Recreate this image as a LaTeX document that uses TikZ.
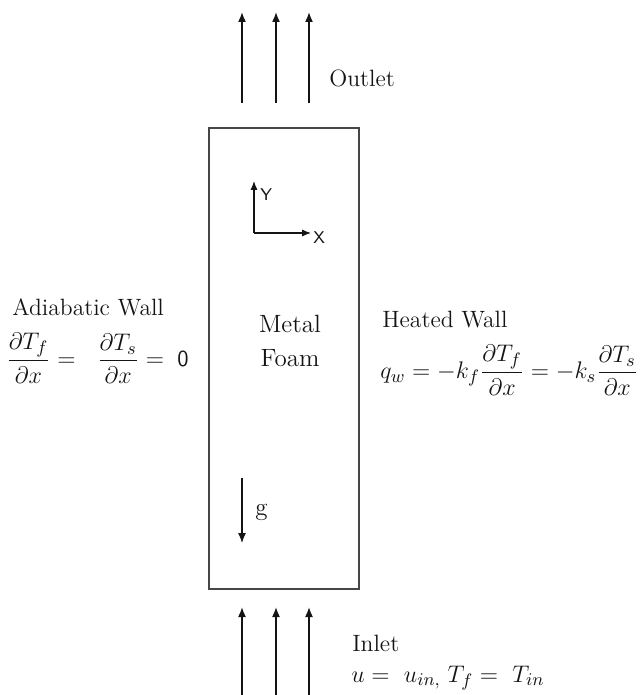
\documentclass[tikz,border=0pt]{standalone}
\usepackage{amsmath}
\usepackage{tikz}
\usetikzlibrary{arrows.meta,positioning}
\DeclareMathSizes{11.5}{11.5}{9}{7}
\definecolor{FoamInk}{RGB}{20,20,20}
\definecolor{FoamEdge}{RGB}{70,70,70}
\tikzset{
  foam/box/.style={
    draw=FoamEdge,
    line width=0.7pt
  },
  foam/arrow/.style={-{Latex[length=5pt,width=4pt]}, line width=0.8pt, draw=FoamInk},
  foam/axis/.style={-{Latex[length=4.5pt,width=3.6pt]}, line width=0.6pt, draw=FoamInk},
  foam/label/.style={font=\fontsize{11.8}{13}\selectfont, text=FoamInk, inner sep=0pt},
  foam/math/.style={font=\fontsize{11.5}{13}\selectfont, text=FoamInk, inner sep=0pt},
  foam/tinylabel/.style={font=\sffamily\fontsize{8.5}{9}\selectfont, text=FoamInk, inner sep=0pt}
}

\begin{document}
\begin{tikzpicture}[x=0.5pt,y=-0.5pt]
  \useasboundingbox (0,0) rectangle (641,695);
  % metal foam channel
  \draw[foam/box] (209,128) rectangle (359,589);
  \node[foam/label,align=center,font=\fontsize{12.5}{17}\selectfont] (foam) at (290,341) {Metal\\Foam};

  % outlet and inlet flow
  \foreach \x/\n in {242/a,276/b,309/c} {
    \coordinate (out\n0) at (\x,103);
    \coordinate (out\n1) at (\x,12);
    \coordinate (in\n0) at (\x,695);
    \coordinate (in\n1) at (\x,607);
    \draw[foam/arrow] (out\n0) -- (out\n1);
    \draw[foam/arrow] (in\n0) -- (in\n1);
  }
  \node[foam/label,anchor=west] (outlet) at (329,78) {Outlet};
  \node[foam/label,anchor=west] (inlet) at (352,643) {Inlet};
  \node[foam/math,anchor=west] (inleteq) at (351,678) {$u=\ u_{in,}\;T_f=\ T_{in}$};

  % axes
  \coordinate (origin) at (254,233);
  \coordinate (ytip) at (254,181);
  \coordinate (xtip) at (311,233);
  \draw[foam/axis] (origin) -- (ytip);
  \draw[foam/axis] (origin) -- (xtip);
  \node[foam/tinylabel,anchor=west] (ylab) at (260,195) {Y};
  \node[foam/tinylabel,anchor=west] (xlab) at (313,238) {X};

  % gravity
  \coordinate (g0) at (242,478);
  \coordinate (g1) at (242,543);
  \draw[foam/arrow,line width=0.6pt] (g0) -- (g1);
  \node[foam/label,anchor=west,font=\fontsize{12.5}{14}\selectfont] (glab) at (255,512) {g};

  % walls
  \node[foam/label,anchor=west] (adiab) at (12,307) {Adiabatic Wall};
  \node[foam/math,anchor=west] (adiabeq) at (6,358)
    {$\dfrac{\partial T_f}{\partial x}=\ \ \dfrac{\partial T_s}{\partial x}=\;\text{\sffamily 0}$};
  \node[foam/label,anchor=west] (heated) at (382,320) {Heated Wall};
  \node[foam/math,anchor=west] (heatedeq) at (380,370)
    {$q_w=-k_f\dfrac{\partial T_f}{\partial x}=-k_s\dfrac{\partial T_s}{\partial x}$};
\end{tikzpicture}
\end{document}
